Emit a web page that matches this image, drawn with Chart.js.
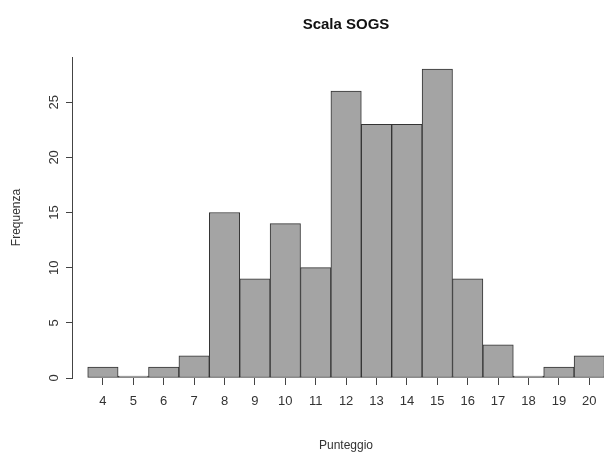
<!DOCTYPE html>
<html>
<head>
<meta charset="utf-8">
<title>Scala SOGS</title>
<script src="https://cdn.jsdelivr.net/npm/chart.js@4/dist/chart.umd.min.js"></script>
<style>
  html, body { margin: 0; padding: 0; background: #fff; overflow: hidden; }
  /* il grafico originale è tagliato sul bordo destro */
  #contenitore { width: 620px; height: 452px; position: relative; }
</style>
</head>
<body>
<div id="contenitore"><canvas id="grafico"></canvas></div>
<script>
const punteggi  = [4, 5, 6, 7, 8, 9, 10, 11, 12, 13, 14, 15, 16, 17, 18, 19, 20];
const frequenze = [1, 0, 1, 2, 15, 9, 14, 10, 26, 23, 23, 28, 9, 3, 0, 1, 2];
const tickX = [4, 5, 6, 7, 8, 9, 10, 11, 12, 13, 14, 15, 16, 17, 18, 19, 20];
const tickY = [0, 5, 10, 15, 20, 25];

document.addEventListener("DOMContentLoaded", function() {
  disegnaIstogramma();
});

function disegnaIstogramma() {
  let canvas = document.getElementById("grafico");
  let font = "'Liberation Sans', Arial, sans-serif";

  let punti = punteggi.map((p, i) => ({ x: p, y: frequenze[i] }));

  let cfg = {
    type: "bar",
    data: {
      datasets: [{
        data: punti,
        backgroundColor: "#a4a4a4",
        borderColor: "#333",
        borderWidth: 1,
        borderSkipped: false,
        minBarLength: 2,   // le classi vuote restano visibili come una linea
        categoryPercentage: 1,
        barPercentage: 1
      }]
    },
    options: {
      responsive: true,
      maintainAspectRatio: false,
      animation: false,
      layout: { padding: 0 },
      plugins: {
        legend: { display: false },
        tooltip: { enabled: false },
        title: {
          display: true,
          text: "Scala SOGS",
          fullSize: false,
          color: "#111",
          font: { family: font, size: 15, weight: "bold", lineHeight: 1.2 },
          padding: { top: 16, bottom: 23 }
        }
      },
      scales: {
        x: {
          type: "linear",
          min: 2.983,
          max: 21.01,
          offset: false,
          border: { display: false },
          grid: { offset: false, drawOnChartArea: false, drawTicks: true, tickLength: 7, color: "#444" },
          afterBuildTicks: scale => { scale.ticks = tickX.map(v => ({ value: v })); },
          afterFit: scale => { scale.height = 74; },
          ticks: {
            autoSkip: false, maxRotation: 0, padding: 9, color: "#333",
            font: { family: font, size: 13 }
          },
          title: {
            display: true, text: "Punteggio", color: "#333",
            font: { family: font, size: 12, lineHeight: 1 },
            padding: { top: 0, bottom: 0 }
          }
        },
        y: {
          min: 0,
          max: 29.1,
          border: { display: true, color: "#444", width: 1 },
          grid: { drawOnChartArea: false, drawTicks: true, tickLength: 6, color: "#444" },
          afterBuildTicks: scale => { scale.ticks = tickY.map(v => ({ value: v })); },
          afterFit: scale => { scale.width = 72; },
          ticks: {
            minRotation: 90, maxRotation: 90, crossAlign: "center", padding: 4, color: "#333",
            font: { family: font, size: 13 }
          },
          title: {
            display: true, text: "Frequenza", color: "#333",
            font: { family: font, size: 12, lineHeight: 1.2 },
            padding: { top: 9, bottom: 0 }
          }
        }
      }
    }
  };

  new Chart(canvas, cfg);
}
</script>
</body>
</html>
